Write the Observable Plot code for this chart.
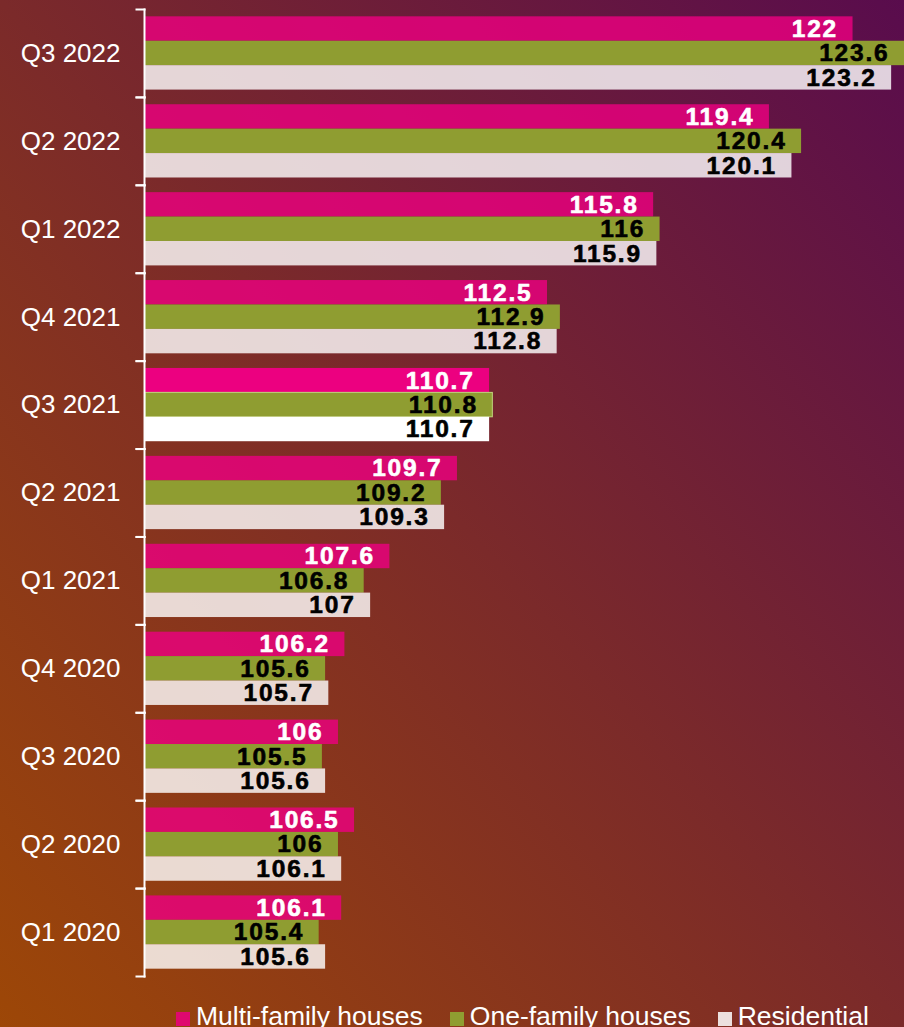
<!DOCTYPE html>
<html>
<head>
<meta charset="utf-8">
<script src="https://cdn.jsdelivr.net/npm/d3@7"></script>
<script src="https://cdn.jsdelivr.net/npm/@observablehq/plot@0.6"></script>
<style>
  html, body { margin: 0; padding: 0; }
  #page {
    width: 904px; height: 1027px; overflow: hidden; position: relative;
    background: linear-gradient(to top right, #9d4707 0%, #7b2a2a 50%, #590c4d 100%);
    font-family: "Liberation Sans", Arial, sans-serif;
  }
  #chart svg { display: block; }
  g[aria-label="text"] text { letter-spacing: 1.8px; }
  #legend {
    display: flex; align-items: center; gap: 27px;
    padding-left: 176px; height: 37px; margin-top: 8px;
    color: white; font-size: 26.5px; line-height: 1;
  }
  #legend .item { display: flex; align-items: center; gap: 6px; white-space: nowrap; }
  #legend .sw { width: 14px; height: 14px; display: inline-block; margin-top: 4px; }
</style>
</head>
<body>
<div id="page">
  <div id="chart"></div>
  <div id="legend"></div>
</div>
<script>
const quarters = ["Q3 2022","Q2 2022","Q1 2022","Q4 2021","Q3 2021","Q2 2021","Q1 2021","Q4 2020","Q3 2020","Q2 2020","Q1 2020"];
const series = ["Multi-family houses","One-family houses","Residential"];
const multiFamily = [122,119.4,115.8,112.5,110.7,109.7,107.6,106.2,106,106.5,106.1];
const oneFamily   = [123.6,120.4,116,112.9,110.8,109.2,106.8,105.6,105.5,106,105.4];
const residential = [123.2,120.1,115.9,112.8,110.7,109.3,107,105.7,105.6,106.1,105.6];
const baseline = 100;
const highlight = "Q3 2021";
const seriesColors = ["#ec0080","#8f9d31","#ffffff"];
const labelColors = ["#ffffff","#000000","#000000"];

const valuesBySeries = [multiFamily, oneFamily, residential];
const rows = [];
quarters.forEach((q, i) => {
  series.forEach((s, j) => {
    rows.push({quarter: q, series: s, value: valuesBySeries[j][i], sIdx: j});
  });
});

const W = 904, H = 990, ML = 145, MR = 0, MT = 9, MB = 14;
const innerW = W - ML - MR;
const maxVal = d3.max(rows, d => d.value);

const chart = Plot.plot({
  width: W, height: H,
  marginLeft: ML, marginRight: MR, marginTop: MT, marginBottom: MB,
  style: {background: "transparent", color: "white", fontSize: "26px", fontFamily: "'Liberation Sans', Arial, sans-serif"},
  x: {domain: [baseline, maxVal], axis: null},
  y: {domain: series, paddingInner: 0, paddingOuter: 0.3, round: false, axis: null},
  fy: {domain: quarters, padding: 0, round: false, axis: "left", label: null, tickSize: 0, tickPadding: 25},
  color: {domain: series, range: seriesColors},
  marks: [
    Plot.barX(rows, {
      fy: "quarter", y: "series", x1: baseline, x2: "value",
      fill: "series",
      fillOpacity: d => (d.quarter === highlight || d.sIdx === 1) ? 1 : 0.81,
      stroke: d => (d.quarter === highlight && d.sIdx === 1) ? "#c2d47e" : "none",
      strokeWidth: 1
    }),
    Plot.text(rows, {
      fy: "quarter", y: "series", x: "value",
      text: d => String(d.value),
      textAnchor: "end", dx: -15,
      fill: d => labelColors[d.sIdx],
      stroke: d => labelColors[d.sIdx],
      strokeWidth: 0.6,
      fontWeight: "bold", fontSize: 24.5,
      fontFamily: "'Liberation Sans', Arial, sans-serif"
    }),
    Plot.frame({anchor: "left", stroke: "white", strokeWidth: 2, insetLeft: -1}),
    Plot.frame({anchor: "top", stroke: "white", strokeWidth: 2, insetLeft: -9, insetRight: innerW + 1}),
    Plot.frame({anchor: "bottom", stroke: "white", strokeWidth: 2, insetLeft: -9, insetRight: innerW + 1})
  ]
});
document.getElementById("chart").appendChild(chart);

const legend = d3.select("#legend");
series.forEach((s, j) => {
  const item = legend.append("div").attr("class", "item");
  item.append("span").attr("class", "sw").style("background", seriesColors[j])
    .style("opacity", j === 1 ? 1 : 0.85);
  item.append("span").text(s);
});
</script>
</body>
</html>
